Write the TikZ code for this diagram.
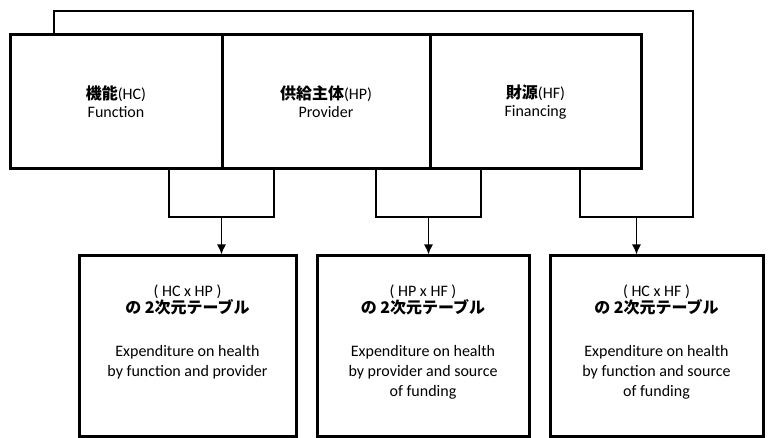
\documentclass[tikz,border=0pt]{standalone}
\usepackage{fontspec}
\setmainfont{Carlito}
\newfontfamily\jp{Noto Sans CJK JP}
\usetikzlibrary{arrows.meta,positioning}

\tikzset{
    axisbox/.style={rectangle, draw, line width=3pt, minimum height=134pt,
        align=center, font=\fontsize{16}{18}\selectfont},
    tablebox/.style={rectangle, draw, line width=3pt, minimum height=180pt},
    head/.style={align=center, inner sep=0pt, font=\fontsize{16}{15.5}\selectfont},
    desc/.style={align=center, inner sep=0pt, font=\fontsize{16}{20}\selectfont},
    link/.style={line width=1.4pt},
    feed/.style={line width=1.4pt, -{Latex[length=10pt,width=9pt]}},
}

\begin{document}
\begin{tikzpicture}[x=1pt, y=-1pt]
            \useasboundingbox (0,0) rectangle (768,438);

            % the three classifications
            \node (hc) at (116, 102) [axisbox, minimum width=212pt] {{\jp\bfseries 機能}(HC)\\Function};
            \node (hp) at (326, 102) [axisbox, minimum width=208pt] {{\jp\bfseries 供給主体}(HP)\\Provider};
            \node (hf) at (535.5, 102) [axisbox, minimum width=211pt] {{\jp\bfseries 財源}(HF)\\Financing};

            % the three two-way tables
            \node (t1) at (187.5, 346) [tablebox, minimum width=217pt] {};
            \node (t2) at (423, 346) [tablebox, minimum width=212pt] {};
            \node (t3) at (656.5, 346) [tablebox, minimum width=213pt] {};

            \node (h1) at (187.5, 300) [head] {( HC x HP )\\{\jp\bfseries の 2次元テーブル}};
            \node (h2) at (423, 300) [head] {( HP x HF )\\{\jp\bfseries の 2次元テーブル}};
            \node (h3) at (656.5, 300) [head] {( HC x HF )\\{\jp\bfseries の 2次元テーブル}};

            \node (d1) at (187.5, 345) [desc, anchor=north] {Expenditure on health\\by function and provider};
            \node (d2) at (423, 345) [desc, anchor=north] {Expenditure on health\\by provider and source\\of funding};
            \node (d3) at (656.5, 345) [desc, anchor=north] {Expenditure on health\\by function and source\\of funding};

            % joints of the brackets
            \coordinate (j1) at (221.5, 217);
            \coordinate (j2) at (428.5, 217);
            \coordinate (j3) at (636.5, 217);
            \coordinate (loopl) at (54, 11);
            \coordinate (loopr) at (693, 11);

            \draw [link] (hc.south -| 169,0) |- (j1) -| (hp.south -| 274,0);
            \draw [link] (hp.south -| 376,0) |- (j2) -| (hf.south -| 481,0);
            \draw [link] (hf.south -| 580,0) |- (j3) -| (loopr) -- (loopl) -- (loopl |- hc.north);

            \draw [feed] (j1) -- (j1 |- t1.north);
            \draw [feed] (j2) -- (j2 |- t2.north);
            \draw [feed] (j3) -- (j3 |- t3.north);
\end{tikzpicture}
\end{document}
